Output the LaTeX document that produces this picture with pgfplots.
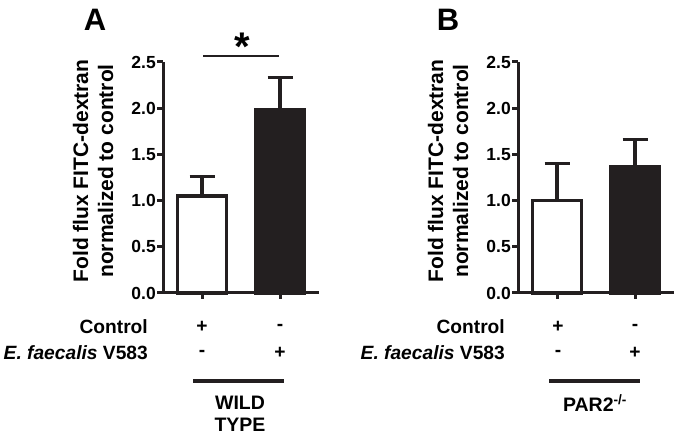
\documentclass[border=0pt]{standalone}
\usepackage{pgfplots}
\pgfplotsset{compat=1.18}
\usepackage{fontspec}
\setmainfont{Liberation Sans}
\definecolor{barblack}{HTML}{231F20}
\pgfplotsset{
  panel/.style={
    scale only axis, width=156pt, height=231pt,
    xmin=0.5, xmax=2.5, ymin=0, ymax=2.5,
    axis x line=bottom, axis y line=left,
    axis line style={-, line width=3pt, barblack},
    tick style={line width=3pt, barblack},
    major tick length=6pt, tick align=outside,
    xtick={1,2}, xticklabels={},
    ytick={0,0.5,1,1.5,2,2.5},
    /pgf/number format/assume math mode=true,
    yticklabel style={font=\fontsize{17.5}{19}\selectfont\bfseries, inner sep=1pt,
      /pgf/number format/.cd, fixed, fixed zerofill, precision=1},
    ybar, bar width=49pt,
    clip=false,
  },
  mybar/.style={bar shift=0pt, draw=barblack, line width=3.2pt,
    /pgfplots/error bars/y dir=plus, /pgfplots/error bars/y explicit,
    /pgfplots/error bars/error bar style={line width=3.2pt, barblack},
    /pgfplots/error bars/error mark options={rotate=90, mark size=12.5pt, line width=3.2pt, barblack}},
}
\begin{document}
\begin{tikzpicture}
\useasboundingbox (0,0) rectangle (678pt,441pt);
% Panel A
\begin{axis}[panel, at={(163pt,148pt)}, anchor=south west]
\addplot[mybar, fill=white] coordinates {(1,1.05) +- (0,0.21)};
\addplot[mybar, fill=barblack] coordinates {(2,1.98) +- (0,0.35)};
\end{axis}
% Panel B
\begin{axis}[panel, at={(518pt,148pt)}, anchor=south west]
\addplot[mybar, fill=white] coordinates {(1,1.00) +- (0,0.40)};
\addplot[mybar, fill=barblack] coordinates {(2,1.37) +- (0,0.29)};
\end{axis}
% panel letters
\node[font=\fontsize{31}{33}\selectfont\bfseries] at (95pt,421pt) {A};
\node[font=\fontsize{31}{33}\selectfont\bfseries] at (448pt,421pt) {B};
% y labels
\foreach \xx in {93pt,448pt}{
\node[rotate=90, align=center, font=\fontsize{21}{25}\selectfont\bfseries, inner sep=0pt] at (\xx,270pt)
  {Fold flux FITC-dextran\\normalized to control};
}
% significance
\draw[line width=2.6pt, barblack] (203pt,385pt) -- (279pt,385pt);
\node[font=\fontsize{40}{40}\selectfont\bfseries, anchor=base, inner sep=0pt] at (242pt,380pt) {*};
% condition table
\tikzset{tab/.style={font=\fontsize{19.2}{22}\selectfont\bfseries, inner sep=0pt}}
\foreach \lx/\ax/\bx in {148/202/280, 505/558/635}{
  \node[tab, anchor=east] at (\lx pt,114pt) {Control};
  \node[tab, anchor=east] at (\lx pt,88pt) {\textit{E. faecalis} V583};
  \node[tab] at (\ax pt,114pt) {+};
  \node[tab] at (\bx pt,114pt) {-};
  \node[tab] at (\ax pt,88pt) {-};
  \node[tab] at (\bx pt,88pt) {+};
}
\draw[line width=4.5pt, barblack] (193pt,60pt) -- (284pt,60pt);
\draw[line width=4.5pt, barblack] (549pt,60pt) -- (640pt,60pt);
\node[align=center, font=\fontsize{19.5}{22}\selectfont\bfseries, inner sep=0pt] at (240pt,27pt) {WILD\\TYPE};
\node[font=\fontsize{19.5}{22}\selectfont\bfseries, inner sep=0pt] at (595pt,38pt) {PAR2\textsuperscript{-/-}};
\end{tikzpicture}
\end{document}
